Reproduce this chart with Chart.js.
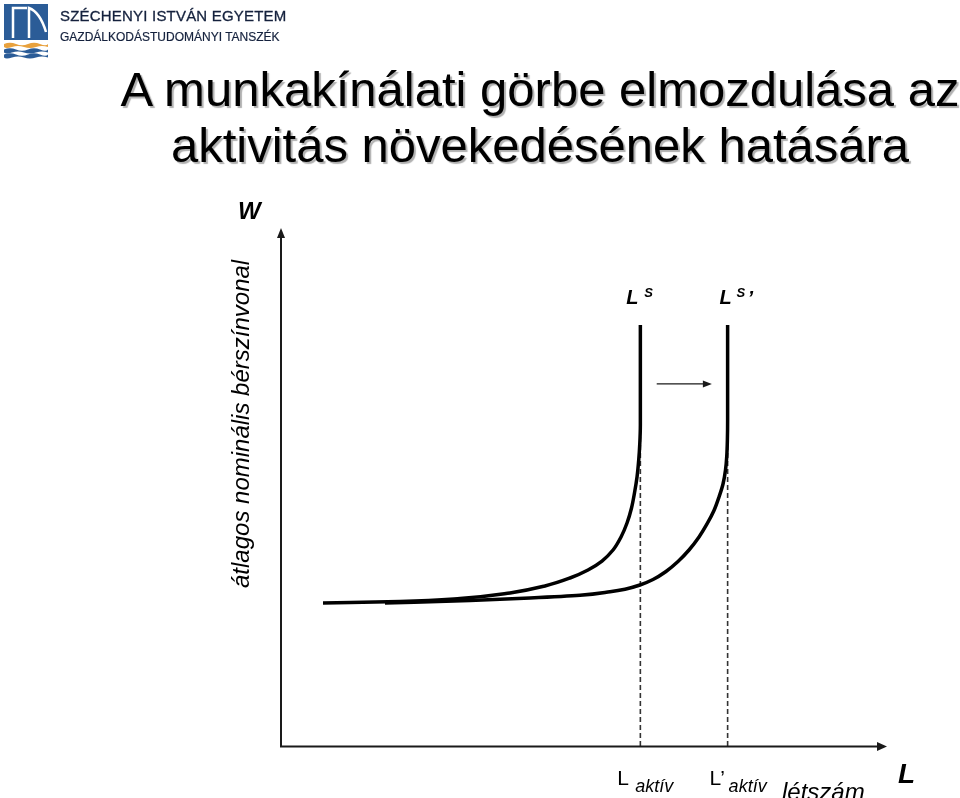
<!DOCTYPE html>
<html>
<head>
<meta charset="utf-8">
<script src="https://cdn.jsdelivr.net/npm/chart.js@4"></script>
<style>
    html, body { margin: 0; padding: 0; background: #fff; overflow: hidden; }
    #page { position: relative; width: 960px; height: 798px; }
    #chart { position: absolute; left: 0; top: 0; }
    .logo { position: absolute; left: 0; top: 0; }
    .uni { position: absolute; left: 60px; top: 8px; font: 15px "Liberation Sans", Arial, sans-serif; line-height: 15px; color: #14213d; letter-spacing: 0.2px; white-space: nowrap; -webkit-text-stroke: 0.3px #14213d; }
    .dept { position: absolute; left: 60px; top: 31px; font: 12px "Liberation Sans", Arial, sans-serif; line-height: 12px; color: #14213d; white-space: nowrap; -webkit-text-stroke: 0.2px #14213d; }
    .title { position: absolute; left: 100px; width: 880px; top: 61px; text-align: center; font: 49px "Liberation Sans", Arial, sans-serif; line-height: 56px; color: #000; text-shadow: 2px 2px 1px #b0b0b0; white-space: nowrap; }
</style>
</head>
<body>
<div id="page">
    <canvas id="chart" width="960" height="798"></canvas>
    <svg class="logo" width="50" height="60" viewBox="0 0 50 60">
        <rect x="4" y="4" width="44" height="36" fill="#2b5c97"/>
        <path d="M13 38 V8 H27 M29 38 V8 Q40 12 46 32" fill="none" stroke="#fff" stroke-width="2.5"/>
        <rect x="4" y="40" width="44" height="2" fill="#fff"/>
        <path d="M4 44 Q10 41.5 16 44 T28 44 T40 44 T48 44 V47 Q42 45 36 47 T24 47 T12 47 T4 47 Z" fill="#e8a13d"/>
        <path d="M4 49.5 Q10 47 16 49.5 T28 49.5 T40 49.5 T48 49.5 V52.5 Q42 50.5 36 52.5 T24 52.5 T12 52.5 T4 52.5 Z" fill="#2b5c97"/>
        <path d="M4 54.5 Q10 52 16 54.5 T28 54.5 T40 54.5 T48 54.5 V57.5 Q42 55.5 36 57.5 T24 57.5 T12 57.5 T4 57.5 Z" fill="#2b5c97"/>
    </svg>
    <div class="uni">SZÉCHENYI ISTVÁN EGYETEM</div>
    <div class="dept">GAZDÁLKODÁSTUDOMÁNYI TANSZÉK</div>
    <div class="title">A munkakínálati görbe elmozdulása az<br>aktivitás növekedésének hatására</div>
</div>
<script>
// Labour supply curve before the shift (L = headcount, W = average nominal wage)
const supplyL = [6.93, 19.64, 29.54, 37.79, 43.56, 47.69, 50.66, 52.97, 54.79, 56.11, 57.10, 57.84, 58.33, 58.75, 59.03, 59.21, 59.3, 59.3, 59.3];
const supplyW = [27.61, 27.90, 28.47, 29.54, 30.89, 32.43, 33.98, 35.71, 37.84, 40.35, 43.05, 45.95, 48.84, 51.93, 55.21, 58.49, 61.97, 66.80, 81.27];

// Labour supply curve after activity grows
const shiftedL = [17.16, 31.19, 41.09, 49.34, 54.29, 56.77, 59.24, 61.39, 63.53, 65.51, 67.33, 68.98, 70.30, 71.45, 72.28, 72.94, 73.35, 73.56, 73.66, 73.7, 73.7];
const shiftedW = [27.61, 28.09, 28.57, 29.09, 29.77, 30.27, 31.08, 32.14, 33.69, 35.62, 37.84, 40.35, 42.86, 45.46, 48.07, 50.58, 53.28, 55.98, 59.07, 62.93, 81.27];

// Active population (dashed guides) and how high the guides go
const activeLabor = [59.3, 73.7];
const guideTop = 64;

// Shift arrow between the two curves
const arrowL = [62.0, 71.1];
const arrowW = 69.9;

const FONT = '"Liberation Sans", Arial, sans-serif';

function toPoints(xs, ys) {
    return xs.map((x, i) => ({ x: x, y: ys[i] }));
}

// wage rises along each curve, so interpolate along the W axis
const curveStyle = {
    borderColor: "#000",
    borderWidth: 3.5,
    pointRadius: 0,
    cubicInterpolationMode: "monotone",
    fill: false,
};

const guideStyle = {
    borderColor: "#333",
    borderWidth: 1.6,
    borderDash: [5, 3],
    pointRadius: 0,
    tension: 0,
    fill: false,
};

const datasets = [
    { label: "LS", data: toPoints(supplyL, supplyW), ...curveStyle },
    { label: "LS'", data: toPoints(shiftedL, shiftedW), ...curveStyle },
];
activeLabor.forEach((l, i) => {
    datasets.push({ label: "aktiv" + i, data: [{ x: l, y: 0 }, { x: l, y: guideTop }], ...guideStyle });
});

// Axes with arrow heads, shift arrow and all text labels
const diagramPlugin = {
    id: "diagram",
    afterDatasetsDraw(chart) {
        const ctx = chart.ctx;
        const a = chart.chartArea;
        const xs = chart.scales.x;
        const ys = chart.scales.y;
        ctx.save();

        // axes
        ctx.strokeStyle = "#1a1a1a";
        ctx.fillStyle = "#1a1a1a";
        ctx.lineWidth = 2;
        ctx.beginPath();
        ctx.moveTo(a.left, a.bottom + 1);
        ctx.lineTo(a.left, a.top + 8);
        ctx.moveTo(a.left - 1, a.bottom + 0.5);
        ctx.lineTo(a.right - 8, a.bottom + 0.5);
        ctx.stroke();
        ctx.beginPath();
        ctx.moveTo(a.left, a.top);
        ctx.lineTo(a.left - 4, a.top + 10);
        ctx.lineTo(a.left + 4, a.top + 10);
        ctx.closePath();
        ctx.fill();
        ctx.beginPath();
        ctx.moveTo(a.right, a.bottom + 0.5);
        ctx.lineTo(a.right - 10, a.bottom - 4);
        ctx.lineTo(a.right - 10, a.bottom + 5);
        ctx.closePath();
        ctx.fill();

        // shift arrow
        const ax0 = xs.getPixelForValue(arrowL[0]);
        const ax1 = xs.getPixelForValue(arrowL[1]);
        const ay = ys.getPixelForValue(arrowW);
        ctx.lineWidth = 1.2;
        ctx.beginPath();
        ctx.moveTo(ax0, ay);
        ctx.lineTo(ax1 - 8, ay);
        ctx.stroke();
        ctx.beginPath();
        ctx.moveTo(ax1, ay);
        ctx.lineTo(ax1 - 9, ay - 3.5);
        ctx.lineTo(ax1 - 9, ay + 3.5);
        ctx.closePath();
        ctx.fill();

        // labels
        ctx.fillStyle = "#000";
        ctx.textBaseline = "alphabetic";
        ctx.textAlign = "left";

        ctx.font = "italic bold 24px " + FONT;
        ctx.fillText("W", a.left - 43, a.top - 9);

        ctx.save();
        ctx.translate(a.left - 32, 588);
        ctx.rotate(-Math.PI / 2);
        ctx.font = "italic 24px " + FONT;
        ctx.fillText("átlagos nominális bérszínvonal", 0, 0);
        ctx.restore();

        const x0 = xs.getPixelForValue(activeLabor[0]);
        const x1 = xs.getPixelForValue(activeLabor[1]);

        ctx.font = "italic bold 20px " + FONT;
        ctx.fillText("L", x0 - 14, 304);
        ctx.fillText("L", x1 - 8, 304);
        ctx.fillText("’", x1 + 20, 305);
        ctx.font = "italic bold 13px " + FONT;
        ctx.fillText("S", x0 + 4, 297);
        ctx.fillText("S", x1 + 9, 297);

        ctx.font = "21px " + FONT;
        ctx.fillText("L", x0 - 23, 785);
        ctx.fillText("L’", x1 - 18, 785);
        ctx.font = "italic 18px " + FONT;
        ctx.fillText("aktív", x0 - 5, 792);
        ctx.fillText("aktív", x1 + 1, 792);

        ctx.font = "italic 24px " + FONT;
        ctx.fillText("létszám", 782, 800);

        ctx.font = "italic bold 28px " + FONT;
        ctx.fillText("L", a.right + 11, 783);

        ctx.restore();
    },
};

new Chart(document.getElementById("chart"), {
    type: "line",
    data: { datasets: datasets },
    options: {
        indexAxis: "y",
        responsive: false,
        animation: false,
        events: [],
        layout: { padding: { left: 281, right: 73, top: 228, bottom: 52 } },
        scales: {
            x: { type: "linear", min: 0, max: 100, display: false },
            y: { type: "linear", min: 0, max: 100, display: false },
        },
        plugins: {
            legend: { display: false },
            tooltip: { enabled: false },
        },
    },
    plugins: [diagramPlugin],
});
</script>
</body>
</html>
